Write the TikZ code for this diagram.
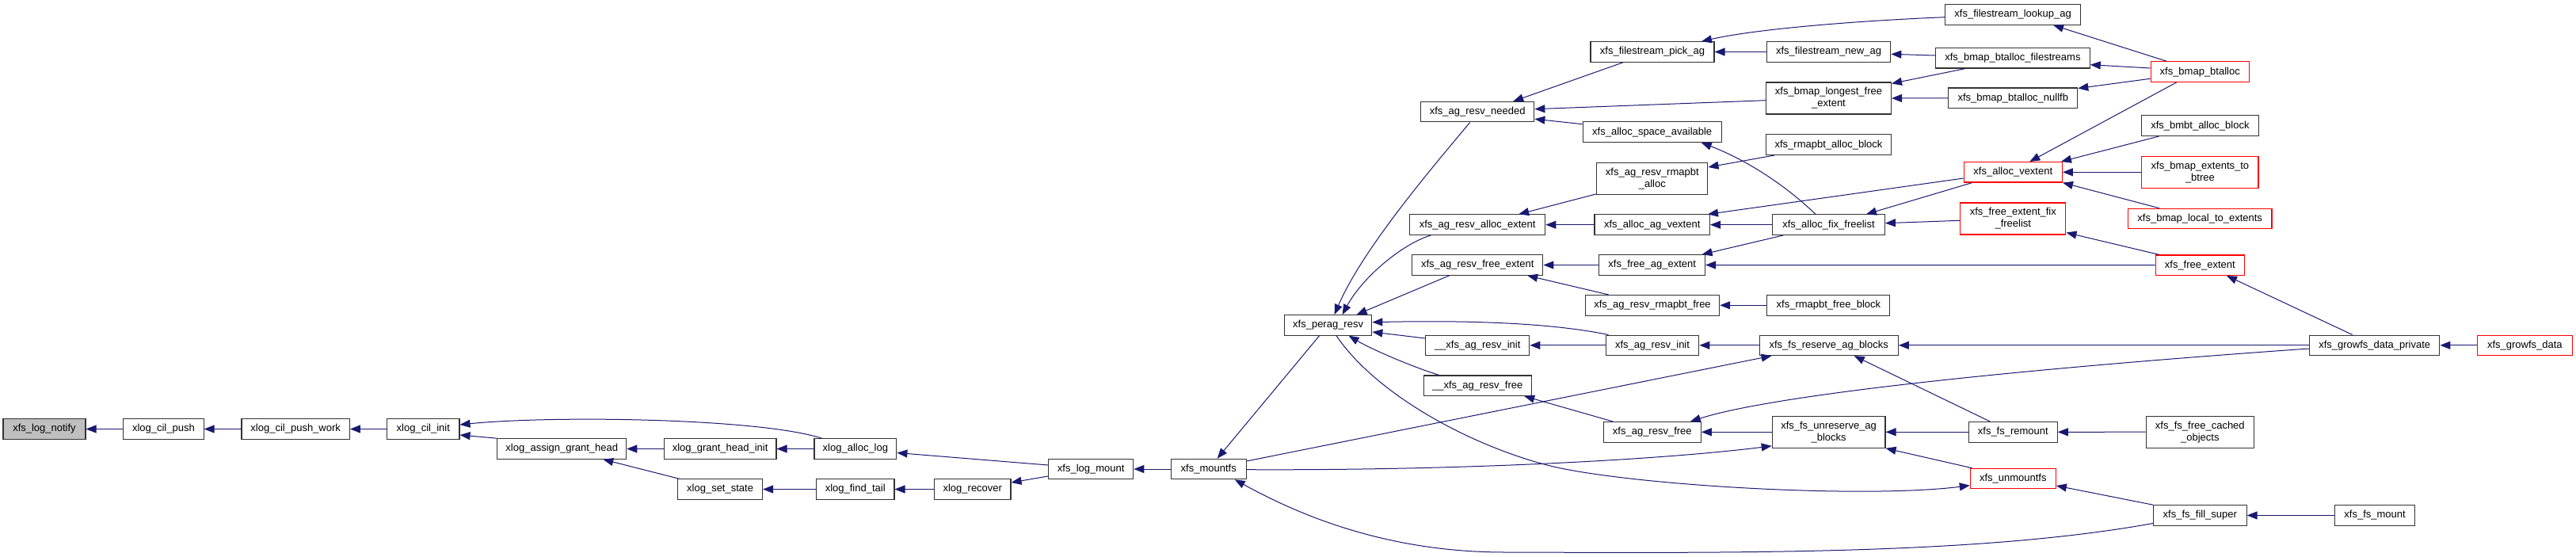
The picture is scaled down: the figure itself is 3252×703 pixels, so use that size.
\documentclass[tikz,border=0pt]{standalone}
\usepackage{fontspec}
\newfontfamily\fnfont{Liberation Sans}
\usetikzlibrary{arrows.meta,calc}
\definecolor{edgeblue}{HTML}{191970}
\definecolor{boxline}{HTML}{333333}
\definecolor{hotline}{HTML}{FF0000}
\definecolor{rootfill}{HTML}{BFBFBF}
\begin{document}
\begin{tikzpicture}[x=1pt,y=-1pt,
  fn/.style={draw=boxline, line width=1.1pt, fill=white, inner sep=0pt,
    minimum height=25.5pt, align=center,
    font=\fnfont\fontsize{13}{15}\selectfont},
  two/.style={minimum height=40pt},
  hot/.style={draw=hotline},
  root/.style={fill=rootfill},
  calls/.style={draw=edgeblue, line width=1pt, -{Triangle[length=13pt,width=10pt]}}]
\useasboundingbox (0,0) rectangle (3252,703);
% nodes
\node[fn,root,minimum width=104pt] (lognotify) at (56,541.5) {xfs\_log\_notify};
\node[fn,minimum width=101.4pt] (cilpush) at (206.4,541.5) {xlog\_cil\_push};
\node[fn,minimum width=136.4pt] (cilpushwork) at (373.2,541.5) {xlog\_cil\_push\_work};
\node[fn,minimum width=91.4pt] (cilinit) at (534.3,541.5) {xlog\_cil\_init};
\node[fn,minimum width=162.8pt] (assigngrant) at (709.3,566.5) {xlog\_assign\_grant\_head};
\node[fn,minimum width=141.8pt] (granthead) at (909.1,566.5) {xlog\_grant\_head\_init};
\node[fn,minimum width=103.9pt] (alloclog) at (1079.9,566.5) {xlog\_alloc\_log};
\node[fn,minimum width=106.8pt] (setstate) at (909.1,617.5) {xlog\_set\_state};
\node[fn,minimum width=98.5pt] (findtail) at (1079.7,617.5) {xlog\_find\_tail};
\node[fn,minimum width=96.4pt] (recover) at (1227.8,617.5) {xlog\_recover};
\node[fn,minimum width=107.1pt] (logmount) at (1377.2,592) {xfs\_log\_mount};
\node[fn,minimum width=95pt] (mountfs) at (1525.7,592) {xfs\_mountfs};
\node[fn,minimum width=110.4pt] (peragresv) at (1676.6,410.4) {xfs\_perag\_resv};
\node[fn,minimum width=143.2pt] (needed) at (1865.2,141.2) {xfs\_ag\_resv\_needed};
\node[fn,minimum width=171.1pt] (allocext) at (1865.2,283.7) {xfs\_ag\_resv\_alloc\_extent};
\node[fn,minimum width=165.4pt] (resvfreeext) at (1865.2,334.5) {xfs\_ag\_resv\_free\_extent};
\node[fn,minimum width=131.1pt] (uuinit) at (1865.2,435.8) {\_\_xfs\_ag\_resv\_init};
\node[fn,minimum width=136.1pt] (uufree) at (1865.2,486.7) {\_\_xfs\_ag\_resv\_free};
\node[fn,minimum width=156pt] (pickag) at (2086,65.5) {xfs\_filestream\_pick\_ag};
\node[fn,minimum width=175pt] (spaceavail) at (2085.7,166.7) {xfs\_alloc\_space\_available};
\node[fn,two,minimum width=140.2pt] (rmapbtalloc) at (2085.8,225.3) {xfs\_ag\_resv\_rmapbt\\\_alloc};
\node[fn,minimum width=145.5pt] (agvextent) at (2085.7,283.7) {xfs\_alloc\_ag\_vextent};
\node[fn,minimum width=133.6pt] (freeagext) at (2085.7,334.5) {xfs\_free\_ag\_extent};
\node[fn,minimum width=169.3pt] (rmapbtfree) at (2086,385.3) {xfs\_ag\_resv\_rmapbt\_free};
\node[fn,minimum width=117.7pt] (resvinit) at (2086,435.8) {xfs\_ag\_resv\_init};
\node[fn,minimum width=123pt] (resvfree) at (2085.8,545.3) {xfs\_ag\_resv\_free};
\node[fn,minimum width=170.6pt] (lookupag) at (2541.1,18.5) {xfs\_filestream\_lookup\_ag};
\node[fn,minimum width=156.5pt] (newag) at (2308.5,65.5) {xfs\_filestream\_new\_ag};
\node[fn,minimum width=194.6pt] (btallocfs) at (2540.9,73.3) {xfs\_bmap\_btalloc\_filestreams};
\node[fn,two,minimum width=157.9pt] (longest) at (2308.5,124) {xfs\_bmap\_longest\_free\\\_extent};
\node[fn,minimum width=162.8pt] (nullfb) at (2541.3,123.8) {xfs\_bmap\_btalloc\_nullfb};
\node[fn,minimum width=158.7pt] (rmapallocblk) at (2308.5,182.7) {xfs\_rmapbt\_alloc\_block};
\node[fn,hot,minimum width=124.2pt] (vextent) at (2541.3,217.3) {xfs\_alloc\_vextent};
\node[fn,minimum width=141.7pt] (fixfl) at (2308.5,283.7) {xfs\_alloc\_fix\_freelist};
\node[fn,two,hot,minimum width=133.2pt] (freeextfix) at (2541.3,276) {xfs\_free\_extent\_fix\\\_freelist};
\node[fn,minimum width=155pt] (rmapfreeblk) at (2308.4,385.3) {xfs\_rmapbt\_free\_block};
\node[fn,minimum width=175.3pt] (reserve) at (2308.7,435.8) {xfs\_fs\_reserve\_ag\_blocks};
\node[fn,two,minimum width=142.8pt] (unreserve) at (2308.6,545.3) {xfs\_fs\_unreserve\_ag\\\_blocks};
\node[fn,minimum width=111.8pt] (remount) at (2541.3,545.3) {xfs\_fs\_remount};
\node[fn,hot,minimum width=108pt] (unmountfs) at (2541.3,604) {xfs\_unmountfs};
\node[fn,hot,minimum width=124.2pt] (btalloc) at (2777.2,90.7) {xfs\_bmap\_btalloc};
\node[fn,minimum width=148pt] (bmbtalloc) at (2777.4,158.7) {xfs\_bmbt\_alloc\_block};
\node[fn,two,hot,minimum width=147.2pt] (ext2btree) at (2777.4,217.3) {xfs\_bmap\_extents\_to\\\_btree};
\node[fn,hot,minimum width=181.6pt] (local2ext) at (2777.2,276) {xfs\_bmap\_local\_to\_extents};
\node[fn,hot,minimum width=112.1pt] (freeext) at (2777.3,334.7) {xfs\_free\_extent};
\node[fn,minimum width=164.2pt] (growpriv) at (2997.7,435.8) {xfs\_growfs\_data\_private};
\node[fn,hot,minimum width=119.7pt] (growdata) at (3187.3,435.8) {xfs\_growfs\_data};
\node[fn,two,minimum width=136.3pt] (freecached) at (2777.3,545.2) {xfs\_fs\_free\_cached\\\_objects};
\node[fn,minimum width=117.5pt] (fillsuper) at (2777.3,650.5) {xfs\_fs\_fill\_super};
\node[fn,minimum width=101.6pt] (fsmount) at (2998.1,650.5) {xfs\_fs\_mount};
% edges (arrow at callee)
\draw[calls] (cilpush.west) -- (lognotify.east);
\draw[calls] (cilpushwork.west) -- (cilpush.east);
\draw[calls] (cilinit.west) -- (cilpushwork.east);
\draw[calls] ($(alloclog.north west)+(10,0)$) .. controls (960,528) and (700,524) .. ($(cilinit.east)+(0,-5.5)$);
\draw[calls] (assigngrant.north west) -- ($(cilinit.east)+(0,7.5)$);
\draw[calls] (granthead.west) -- (assigngrant.east);
\draw[calls] ($(setstate.north west)+(2,0)$) -- ($(assigngrant.south)+(52,0)$);
\draw[calls] (alloclog.west) -- (granthead.east);
\draw[calls] (findtail.west) -- (setstate.east);
\draw[calls] ($(logmount.west)+(0,-5)$) -- ($(alloclog.east)+(0,5)$);
\draw[calls] (recover.west) -- (findtail.east);
\draw[calls] ($(logmount.west)+(0,9)$) -- ($(recover.east)+(0,-8.5)$);
\draw[calls] (mountfs.west) -- (logmount.east);
\draw[calls] ($(peragresv.south)+(-11,0)$) -- ($(mountfs.north)+(11,0)$);
\draw[calls] ($(needed.south)+(-9.5,0)$) .. controls (1805,215) and (1720,315) .. ($(peragresv.north)+(8,0)$);
\draw[calls] ($(allocext.south)+(-59,0)$) .. controls (1770,308) and (1720,350) .. ($(peragresv.north)+(18,0)$);
\draw[calls] ($(resvfreeext.south)+(-35.6,0)$) -- ($(peragresv.north)+(36,0)$);
\draw[calls] ($(resvinit.north west)+(4,0)$) .. controls (1960,408) and (1860,404) .. ($(peragresv.east)+(0,-3.7)$);
\draw[calls] ($(uuinit.west)+(0,-8.8)$) -- ($(peragresv.east)+(0,8.6)$);
\draw[calls] ($(uufree.north west)+(20,0)$) .. controls (1780,462) and (1730,440) .. ($(peragresv.south)+(26,0)$);
\draw[calls] ($(pickag.south)+(-37,0)$) -- ($(needed.north)+(45,0)$);
\draw[calls] ($(longest.west)+(0,2.7)$) -- ($(needed.east)+(0,-3.5)$);
\draw[calls] ($(spaceavail.west)+(0,-10)$) -- ($(needed.east)+(0,9)$);
\draw[calls] (newag.west) -- (pickag.east);
\draw[calls] ($(lookupag.west)+(0,3.2)$) .. controls (2350,26) and (2220,36) .. ($(pickag.north)+(62,0)$);
\draw[calls] ($(btallocfs.west)+(0,-3.3)$) -- ($(newag.east)+(0,2.8)$);
\draw[calls] ($(btallocfs.south)+(-60,0)$) -- ($(longest.north east)+(0,2)$);
\draw[calls] (nullfb.west) -- (longest.east);
\draw[calls] ($(btalloc.north)+(-41.7,0)$) -- ($(lookupag.south)+(51,0)$);
\draw[calls] ($(btalloc.west)+(0,-4.7)$) -- ($(btallocfs.east)+(0,8.4)$);
\draw[calls] ($(btalloc.west)+(0,8.6)$) -- ($(nullfb.north east)+(0,1)$);
\draw[calls] ($(btalloc.south)+(-29.6,0)$) -- ($(vextent.north)+(21,0)$);
\draw[calls] ($(bmbtalloc.south west)+(22.6,0)$) -- ($(vextent.north east)+(-2,0)$);
\draw[calls] (ext2btree.west) -- (vextent.east);
\draw[calls] ($(local2ext.north west)+(40,0)$) -- (vextent.south east);
\draw[calls] ($(rmapallocblk.south west)+(11.5,0)$) -- ($(rmapbtalloc.east)+(0,-14.3)$);
\draw[calls] ($(rmapbtalloc.south west)+(0,-1)$) -- ($(allocext.north)+(52,0)$);
\draw[calls] (agvextent.west) -- (allocext.east);
\draw[calls] ($(vextent.west)+(0,7.7)$) -- ($(agvextent.north east)+(-3,0)$);
\draw[calls] (fixfl.west) -- (agvextent.east);
\draw[calls] ($(fixfl.north)+(-16.5,0)$) .. controls (2250,230) and (2200,200) .. ($(spaceavail.south)+(62,0)$);
\draw[calls] ($(vextent.south west)+(11,0)$) -- ($(fixfl.north east)+(-24,0)$);
\draw[calls] ($(freeextfix.west)+(0,2.3)$) -- ($(fixfl.east)+(0,-2)$);
\draw[calls] ($(fixfl.south west)+(14,0)$) -- ($(freeagext.north east)+(-4.5,0)$);
\draw[calls] (freeext.west) -- (freeagext.east);
\draw[calls] ($(freeext.north west)+(5,0)$) -- ($(freeextfix.south east)+(0,-3)$);
\draw[calls] ($(growpriv.north)+(-28,0)$) -- ($(freeext.south)+(33.7,0)$);
\draw[calls] (freeagext.west) -- (resvfreeext.east);
\draw[calls] ($(rmapbtfree.north west)+(30,0)$) -- ($(resvfreeext.south)+(63,0)$);
\draw[calls] (rmapfreeblk.west) -- (rmapbtfree.east);
\draw[calls] (resvinit.west) -- (uuinit.east);
\draw[calls] (reserve.west) -- (resvinit.east);
\draw[calls] (growpriv.west) -- (reserve.east);
\draw[calls] ($(remount.north)+(-29,0)$) -- ($(reserve.south)+(32,0)$);
\draw[calls] ($(resvfree.north west)+(12.5,0)$) -- ($(uufree.south)+(59,0)$);
\draw[calls] (unreserve.west) -- (resvfree.east);
\draw[calls] ($(growpriv.west)+(0,4.2)$) .. controls (2600,462) and (2250,495) .. ($(resvfree.north east)+(-14,0)$);
\draw[calls] (remount.west) -- (unreserve.east);
\draw[calls] ($(unmountfs.north west)+(2.7,0)$) -- (unreserve.south east);
\draw[calls] (freecached.west) -- (remount.east);
\draw[calls] (fillsuper.north west) -- ($(unmountfs.east)+(0,9)$);
\draw[calls] (fsmount.west) -- (fillsuper.east);
\draw[calls] (growdata.west) -- (growpriv.east);
\draw[calls] ($(mountfs.east)+(0,-10)$) -- ($(reserve.south west)+(16,0)$);
\draw[calls] ($(mountfs.east)+(0,0.7)$) .. controls (1850,594) and (2100,580) .. ($(unreserve.south west)+(0,-3)$);
\draw[calls] ($(fillsuper.west)+(0,10)$) .. controls (2500,700) and (2200,698) .. (1900,697) .. controls (1750,697) and (1640,650) .. ($(mountfs.south)+(33,0)$);
\draw[calls] ($(peragresv.south)+(10.5,0)$) .. controls (1735,495) and (1850,560) .. (1953,587) .. controls (2050,612) and (2350,630) .. ($(unmountfs.west)+(0,8.7)$);
\end{tikzpicture}
\end{document}
